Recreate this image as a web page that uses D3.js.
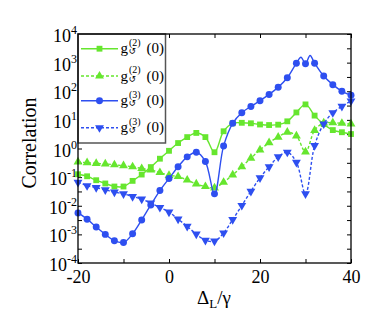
<!DOCTYPE html>
<html>
<head>
<meta charset="utf-8">
<script src="https://cdn.jsdelivr.net/npm/d3@7"></script>
<style>
  body { margin: 0; background: #fff; }
  svg { display: block; font-family: "Liberation Serif", "DejaVu Serif", serif; }
</style>
</head>
<body>
<svg id="chart"></svg>
<script>
// detuning values where markers sit
const detuning = [-20,-18,-16,-14,-12,-10,-8,-6,-4,-2,0,2,4,6,8,10,12,14,16,18,20,22,24,26,28,30,32,34,36,38,40];

// g_C^(2)(0), solid line, squares
const g2Solid = [0.126,0.107,0.078,0.060,0.047,0.047,0.074,0.123,0.224,0.44,0.83,1.55,2.5,3.5,2.5,0.74,4.0,7.6,7.9,7.6,6.9,6.6,6.8,8.9,18.2,34.7,14.1,7.1,4.4,3.7,3.2];
// g_C^(2)(0), dashed line, triangles
const g2Dashed = [0.34,0.32,0.30,0.29,0.27,0.25,0.23,0.20,0.18,0.145,0.115,0.105,0.079,0.058,0.047,0.042,0.066,0.12,0.23,0.46,0.89,1.6,2.5,3.7,2.75,0.76,4.3,7.8,7.9,7.6,7.2];
// g_C^(3)(0), solid line, circles
const g3Solid = [5.6e-3,3.4e-3,1.8e-3,1.0e-3,6.0e-4,5.2e-4,1.05e-3,3.2e-3,0.0107,0.034,0.089,0.23,0.51,0.74,0.35,0.026,1.23,7.6,17.8,29.5,46.8,77.6,138,295,955,912,955,339,170,100,72];
// extra line points of the g3 solid curve (double peak around 30)
const g3PeakX = [29,31];
const g3PeakY = [1550,1780];
// g_C^(3)(0), dashed line, inverted triangles
const g3Dashed = [0.066,0.050,0.043,0.036,0.030,0.026,0.021,0.017,0.0123,0.0087,0.0060,0.0034,0.0019,0.00102,0.00062,0.00058,0.00112,0.0033,0.0102,0.032,0.095,0.23,0.51,0.74,0.33,0.026,1.26,7.2,17.8,29.5,45.7];

const xTicks = [-20,-10,0,10,20,30,40];
const xLabels = [-20,0,20,40];
const yExponents = [-4,-3,-2,-1,0,1,2,3,4];
const legendLabels = ["(2)","(2)","(3)","(3)"];

const W = 382, H = 327;
const margin = {top: 34, right: 31, bottom: 64, left: 78};
const w = W - margin.left - margin.right;
const h = H - margin.top - margin.bottom;

const green = "#66e62e", blue = "#2e4ff0";

const svg = d3.select("#chart").attr("width", W).attr("height", H);
const g = svg.append("g").attr("transform", `translate(${margin.left},${margin.top})`);

const x = d3.scaleLinear().domain([-20, 40]).range([0, w]);
const y = d3.scaleLog().domain([1e-4, 1e4]).range([h, 0]);

// half-decade tick positions
const yTickVals = [];
for (let e = -4; e <= 4; e += 0.5) yTickVals.push(Math.pow(10, e));

// axes
const xAxis = d3.axisBottom(x).tickValues(xTicks).tickSize(-4).tickPadding(7)
  .tickFormat(d => xLabels.includes(d) ? String(d) : "");
g.append("g").attr("class", "xaxis").attr("transform", `translate(0,${h})`).call(xAxis);
g.append("g").attr("transform", "translate(0,0)")
  .call(d3.axisTop(x).tickValues(xTicks).tickSize(-4).tickFormat(""));

const yAxis = d3.axisLeft(y).tickValues(yTickVals).tickSize(-4).tickPadding(1).tickFormat("");
const yg = g.append("g").attr("class", "yaxis").call(yAxis);
g.append("g").attr("transform", `translate(${w},0)`)
  .call(d3.axisRight(y).tickValues(yTickVals).tickSize(-4).tickFormat(""));

g.selectAll(".domain").remove();
g.selectAll(".tick line").attr("stroke", "#000").attr("stroke-width", 1);
g.select(".xaxis").selectAll("text").attr("font-size", 18)
  .attr("font-family", "Liberation Serif").attr("fill", "#000");

// y tick labels: 10 with superscript exponent
yExponents.forEach(e => {
  const t = g.append("text")
    .attr("x", -1).attr("y", y(Math.pow(10, e)) + 8)
    .attr("text-anchor", "end").attr("font-size", 18).attr("fill", "#000");
  t.append("tspan").text("10");
  t.append("tspan").attr("font-size", 12).attr("dy", -8).text(String(e));
});

// curves
const line = d3.line()
  .x(d => x(d[0])).y(d => y(d[1]))
  .curve(d3.curveCatmullRom.alpha(0.5));

const series = [
  {vals: g2Solid, color: green, dash: null, sym: "square"},
  {vals: g2Dashed, color: green, dash: "3,2", sym: "tri"},
  {vals: g3Solid, color: blue, dash: null, sym: "circle"},
  {vals: g3Dashed, color: blue, dash: "3,2", sym: "tridown"}
];

const symbolPath = s => {
  if (s === "square") return d3.symbol(d3.symbolSquare, 34)();
  if (s === "circle") return d3.symbol(d3.symbolCircle, 38)();
  return d3.symbol(d3.symbolTriangle, 34)();
};

const plot = g.append("g");
series.forEach((s, i) => {
  let pts = detuning.map((d, k) => [d, s.vals[k]]);
  if (i === 2) {
    pts = pts.concat(g3PeakX.map((d, k) => [d, g3PeakY[k]])).sort((a, b) => a[0] - b[0]);
  }
  plot.append("path").datum(pts)
    .attr("d", line)
    .attr("fill", "none").attr("stroke", s.color).attr("stroke-width", 1.4)
    .attr("stroke-dasharray", s.dash);
  plot.selectAll(null).data(detuning.map((d, k) => [d, s.vals[k]])).join("path")
    .attr("d", symbolPath(s.sym))
    .attr("transform", d => `translate(${x(d[0])},${y(d[1])})` + (s.sym === "tridown" ? " rotate(180)" : ""))
    .attr("fill", s.color);
});

// legend
const leg = g.append("g");
leg.append("rect").attr("x", 0).attr("y", 0).attr("width", 87.5).attr("height", 109)
  .attr("fill", "#fff").attr("stroke", "#555").attr("stroke-width", 1.5);
const rowY = [14.7, 42, 66.7, 93.7];
series.forEach((s, i) => {
  const ry = rowY[i];
  leg.append("line").attr("x1", 3).attr("x2", 40).attr("y1", ry).attr("y2", ry)
    .attr("stroke", s.color).attr("stroke-width", 1.4).attr("stroke-dasharray", s.dash);
  leg.append("path").attr("d", symbolPath(s.sym))
    .attr("transform", `translate(21.5,${ry})` + (s.sym === "tridown" ? " rotate(180)" : ""))
    .attr("fill", s.color);
  leg.append("text").attr("x", 42.5).attr("y", ry + 4.5).attr("font-size", 15).text("g");
  leg.append("text").attr("x", 51).attr("y", ry - 3).attr("font-size", 10).text(legendLabels[i]);
  leg.append("text").attr("x", 50.5).attr("y", ry + 5.5).attr("font-size", 9)
    .attr("font-family", "DejaVu Sans").text("\u21BA");
  leg.append("text").attr("x", 68.5).attr("y", ry + 4.5).attr("font-size", 15).text("(0)");
});

// frame
g.append("rect").attr("width", w).attr("height", h)
  .attr("fill", "none").attr("stroke", "#000").attr("stroke-width", 1.3);

// axis titles
svg.append("text").attr("transform", "translate(36,143) rotate(-90)")
  .attr("text-anchor", "middle").attr("font-size", 20).text("Correlation");

const xt = svg.append("text").attr("x", 214).attr("y", 304)
  .attr("text-anchor", "middle").attr("font-size", 19);
xt.append("tspan").text("\u0394");
xt.append("tspan").attr("font-size", 13).attr("dy", 4).text("L");
xt.append("tspan").attr("dy", -4).text("/\u03B3");
</script>
</body>
</html>
